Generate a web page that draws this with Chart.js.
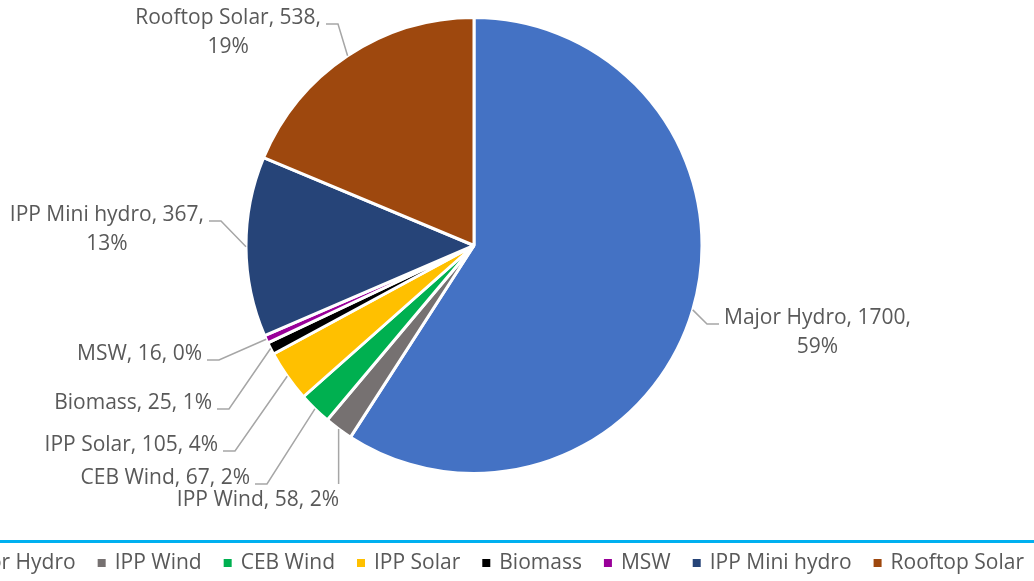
<!DOCTYPE html>
<html>
<head>
<meta charset="utf-8">
<script src="https://cdn.jsdelivr.net/npm/chart.js@4/dist/chart.umd.min.js"></script>
<style>
  html, body { margin: 0; padding: 0; background: #fff; }
  #wrap { width: 1034px; height: 581px; position: relative; }
</style>
</head>
<body>
<div id="wrap"><canvas id="myChart"></canvas></div>
<script>
const categories = ['Major Hydro', 'IPP Wind', 'CEB Wind', 'IPP Solar', 'Biomass', 'MSW', 'IPP Mini hydro', 'Rooftop Solar'];
const capacity = [1700, 58, 67, 105, 25, 16, 367, 538];
const sliceColors = ['#4472C4', '#767171', '#00B050', '#FFC000', '#000000', '#990099', '#264478', '#9E480E'];

// where each data label sits: side of the pie, text edge x, first line centre y
const labelLayout = [
  { side: 'right', x: 724, y: 318, wrap: true },
  { side: 'below', x: 339, y: 500 },
  { side: 'left', x: 250, y: 478 },
  { side: 'left', x: 218, y: 445 },
  { side: 'left', x: 212, y: 403 },
  { side: 'left', x: 202, y: 354 },
  { side: 'left', x: 204, y: 215, wrap: true },
  { side: 'left', x: 321, y: 18, wrap: true },
];

const FONT = '21px "Open Sans"';
const LINE_H = 29;
const TEXT_COLOR = '#595959';

// whole percents that add up to 100 (largest remainder), like Excel does
function roundedPercents(values) {
  const total = values.reduce((a, b) => a + b, 0);
  const raw = values.map(v => v / total * 100);
  const out = raw.map(Math.floor);
  let left = 100 - out.reduce((a, b) => a + b, 0);
  const order = raw.map((r, i) => i).sort((a, b) => (raw[b] - out[b]) - (raw[a] - out[a]));
  for (let k = 0; k < left; k++) out[order[k]] += 1;
  return out;
}

const pieLabels = {
  id: 'pieLabels',
  afterDatasetsDraw(chart) {
    const ctx = chart.ctx;
    const arcs = chart.getDatasetMeta(0).data;
    const pct = roundedPercents(capacity);
    ctx.save();
    ctx.font = FONT;
    ctx.textBaseline = 'middle';
    ctx.textAlign = 'center';
    arcs.forEach((arc, i) => {
      const lay = labelLayout[i];
      const mid = (arc.startAngle + arc.endAngle) / 2;
      const ax = arc.x + Math.cos(mid) * arc.outerRadius;
      const ay = arc.y + Math.sin(mid) * arc.outerRadius;

      const lines = lay.wrap
        ? [`${categories[i]}, ${capacity[i]},`, `${pct[i]}%`]
        : [`${categories[i]}, ${capacity[i]}, ${pct[i]}%`];
      const w = Math.max(...lines.map(l => ctx.measureText(l).width));
      const cx = lay.side === 'right' ? lay.x + w / 2 : lay.x - w / 2;

      ctx.fillStyle = TEXT_COLOR;
      lines.forEach((l, k) => ctx.fillText(l, cx, lay.y + k * LINE_H));

      // leader line
      ctx.strokeStyle = '#A6A6A6';
      ctx.lineWidth = 1.5;
      ctx.beginPath();
      ctx.moveTo(ax, ay);
      if (lay.side === 'below') {
        ctx.lineTo(ax, lay.y - 16);
      } else {
        const dir = lay.side === 'right' ? -1 : 1;
        const sy = lay.y + 6;
        ctx.lineTo(lay.x + dir * 17, sy);
        ctx.lineTo(lay.x + dir * 5, sy);
      }
      ctx.stroke();
    });
    ctx.restore();
  }
};

const bottomLegend = {
  id: 'bottomLegend',
  afterDraw(chart) {
    const ctx = chart.ctx;
    ctx.save();
    ctx.fillStyle = '#00B0F0';
    ctx.fillRect(0, 540, chart.width, 3);

    ctx.font = FONT;
    ctx.textBaseline = 'middle';
    ctx.textAlign = 'left';
    // right to left, so the last entry ends near the right edge
    let x = 1024;
    for (let i = categories.length - 1; i >= 0; i--) {
      const w = ctx.measureText(categories[i]).width;
      x -= w;
      ctx.fillStyle = TEXT_COLOR;
      ctx.fillText(categories[i], x, 563);
      x -= 17;
      ctx.fillStyle = sliceColors[i];
      ctx.fillRect(x, 559, 8, 8);
      x -= 22;
    }
    ctx.restore();
  }
};

const ctx = document.getElementById('myChart').getContext('2d');
new Chart(ctx, {
  type: 'pie',
  data: {
    labels: categories,
    datasets: [{
      data: capacity,
      backgroundColor: sliceColors,
      borderColor: '#FFFFFF',
      borderWidth: 3,
    }]
  },
  options: {
    responsive: true,
    maintainAspectRatio: false,
    animation: false,
    events: [],
    layout: {
      padding: { top: 16, bottom: 106, left: 0, right: 86 },
    },
    plugins: {
      legend: { display: false },
      tooltip: { enabled: false },
    },
  },
  plugins: [pieLabels, bottomLegend],
});
</script>
</body>
</html>
